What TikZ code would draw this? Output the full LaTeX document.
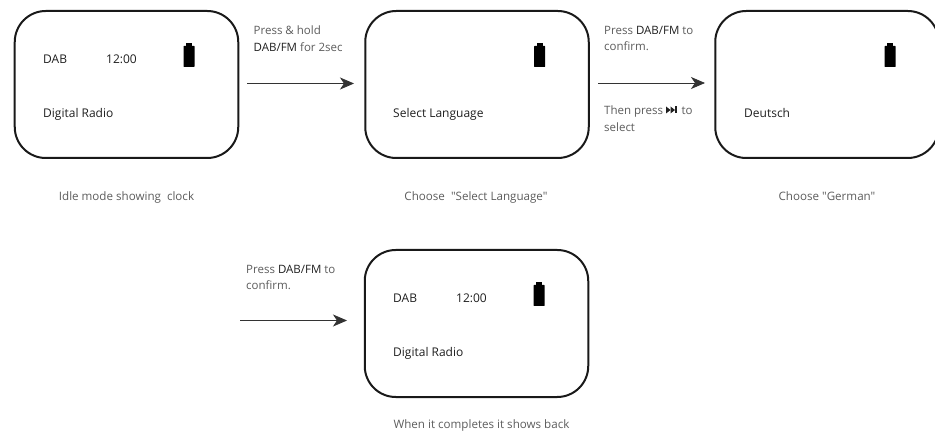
\documentclass[tikz,border=0pt]{standalone}
\usepackage{fontspec}
\setmainfont{Open Sans}[Ligatures=TeXOff]
\usetikzlibrary{arrows.meta}
\definecolor{txtgrey}{gray}{0.36}
\definecolor{txtdark}{gray}{0.12}
\tikzset{
  x=1bp,y=-1bp,
  screen/.style={draw=black!90,line width=2bp,rounded corners=31bp,minimum width=223.5bp,minimum height=147bp,inner sep=0pt},
  stxt/.style={font=\fontsize{12bp}{14bp}\selectfont,text=txtdark,inner sep=0pt,anchor=base west},
  note/.style={font=\fontsize{11.5bp}{16.3bp}\selectfont,text=txtgrey,inner sep=0pt,anchor=north west,align=left},
  captext/.style={font=\fontsize{11.6bp}{14bp}\selectfont,text=txtgrey,inner sep=0pt,anchor=base},
  flow/.style={draw=black!80,line width=0.8bp,-{Stealth[length=14bp,width=12bp,inset=4bp]}},
  battbody/.style={fill=black,draw=none,minimum width=11bp,minimum height=21bp,inner sep=0pt,rounded corners=0.5bp},
  batttip/.style={fill=black,draw=none,minimum width=6bp,minimum height=3bp,inner sep=0pt}
}
\newcommand{\kw}[1]{{\color{txtdark}#1}}
\begin{document}
\begin{tikzpicture}
\useasboundingbox (0,0) rectangle (935,433);
\clip (0,0) rectangle (935,433);
% screens
\node[screen] (s1) at (126.5,84.5) {};
\node[screen] (s2) at (477,84.5) {};
\node[screen] (s3) at (827,84.5) {};
\node[screen] (s4) at (476.5,323.5) {};
% screen 1
\node[stxt] (s1a) at (43,64) {DAB};
\node[stxt] (s1b) at (106,64) {12:00};
\node[stxt] (s1c) at (43,118) {Digital Radio};
\node[battbody] (b1) at (189,56.5) {};
\node[batttip] (t1) at (189,44.5) {};
% screen 2
\node[battbody] (b2) at (539.5,56.5) {};
\node[batttip] (t2) at (539.5,44.5) {};
\node[stxt] (s2c) at (393,118) {Select Language};
% screen 3
\node[battbody] (b3) at (890,56.5) {};
\node[batttip] (t3) at (890,44.5) {};
\node[stxt] (s3c) at (744,118) {Deutsch};
% screen 4
\node[stxt] (s4a) at (393,303) {DAB};
\node[stxt] (s4b) at (456,303) {12:00};
\node[stxt] (s4c) at (393,357) {Digital Radio};
\node[battbody] (b4) at (539,295.5) {};
\node[batttip] (t4) at (539,283.5) {};
% notes
\node[note] (n1) at (253.5,26) {Press \& hold\\\kw{DAB/FM} for 2sec};
\node[note] (n2) at (604,26) {Press \kw{DAB/FM} to\\confirm.};
\node[note] (n3) at (604,106) {Then press \hspace{12.5bp} to\\select};
\node[note] (n4) at (246,265) {Press \kw{DAB/FM} to\\confirm.};
% skip-next symbol
\fill[txtdark] (666,106.5) -- (670.5,110) -- (666,113.5) -- cycle;
\fill[txtdark] (670.5,106.5) -- (675,110) -- (670.5,113.5) -- cycle;
\fill[txtdark] (675.2,106.5) rectangle (676.6,113.5);
% captions
\node[captext] (c1) at (126.5,200.5) {Idle mode showing\ \ clock};
\node[captext] (c2) at (476,200.5) {Choose\ \ "Select Language"};
\node[captext] (c3) at (827,200.5) {Choose "German"};
\node[captext] (c4) at (481.5,428) {When it completes it shows back};
% connectors
\coordinate (a1s) at (247,83.5);
\coordinate (a1e) at (354,83.5);
\coordinate (a2s) at (598,83);
\coordinate (a2e) at (705,83);
\coordinate (a3s) at (240,320.5);
\coordinate (a3e) at (347,320.5);
\draw[flow] (a1s) -- (a1e);
\draw[flow] (a2s) -- (a2e);
\draw[flow] (a3s) -- (a3e);
\end{tikzpicture}
\end{document}
